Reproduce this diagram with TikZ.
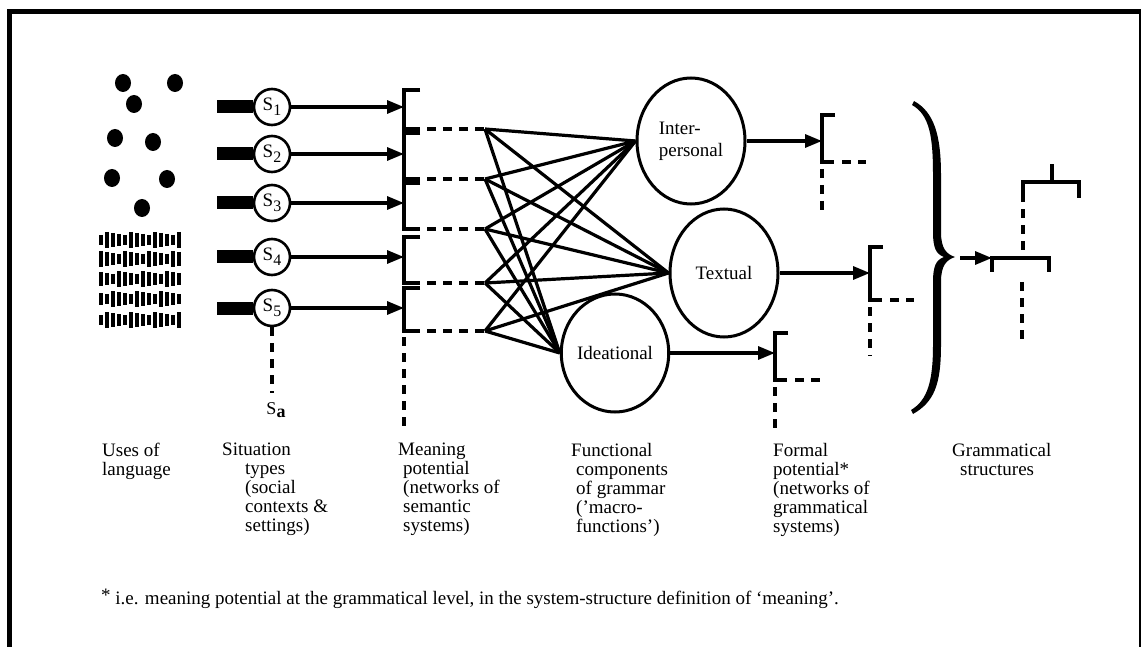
\documentclass[tikz,border=0pt]{standalone}
\usepackage{fontspec}
\setmainfont{Liberation Serif}
\usetikzlibrary{arrows.meta,shapes.geometric}
\begin{document}
\begin{tikzpicture}[x=1pt,y=-1pt,
  sit/.style={circle, draw, line width=2.6pt, minimum size=36pt, inner sep=0pt, font=\fontsize{19}{19}\selectfont},
  func/.style={ellipse, draw, line width=3pt, inner sep=0pt, align=left, font=\fontsize{19}{22}\selectfont},
  arr/.style={line width=3.2pt, -{Triangle[length=17pt,width=13pt]}},
  solidln/.style={line width=3.2pt},
  dashln/.style={line width=3.6pt, dash pattern=on 9pt off 7pt},
  fan/.style={line width=3.2pt},
  thickbar/.style={line width=13pt},
  lbl/.style={font=\fontsize{19}{19}\selectfont, align=left, anchor=north west, inner sep=0pt},
]
\useasboundingbox (0,0) rectangle (1141,647);
% frame
\draw[line width=5pt] (9.5,647) -- (9.5,11.5) -- (1141,11.5);
\draw[line width=2pt] (1140,11.5) -- (1140,647);

% uses of language: dots
\foreach \px/\py in {123/83,175/83,134/104,115/138,153/142,112/178,167/179,142/208}
  \fill (\px,\py) ellipse [x radius=8, y radius=9];
% text-like marks
\foreach \r/\yy in {0/240,1/259,2/279,3/299,4/320}{
  \foreach \k in {0,...,13}{
    \pgfmathsetmacro\hh{5+mod(\k*7+\r*3,4)}
    \draw[line width=3.4pt] (101+6*\k,\yy-\hh) -- (101+6*\k,\yy+\hh);
  }
}

% situation types
\node[sit] (s1) at (272,107) {S\raisebox{-5pt}{\fontsize{16}{16}\selectfont 1}};
\node[sit] (s2) at (272,154) {S\raisebox{-5pt}{\fontsize{16}{16}\selectfont 2}};
\node[sit] (s3) at (272,203) {S\raisebox{-5pt}{\fontsize{16}{16}\selectfont 3}};
\node[sit] (s4) at (272,257) {S\raisebox{-5pt}{\fontsize{16}{16}\selectfont 4}};
\node[sit] (s5) at (272,308) {S\raisebox{-5pt}{\fontsize{16}{16}\selectfont 5}};
\foreach \i/\yy in {1/107,2/154,3/203,4/257,5/308}{
  \coordinate (u\i) at (217,\yy);
  \coordinate (b\i) at (404,\yy);
  \draw[thickbar] (u\i) -- (s\i.west);
  \draw[arr] (s\i.east) -- (b\i);
}
\coordinate (sa) at (272,393);
\draw[dashln] (s5.south) -- (sa);
\node[font=\fontsize{18}{18}\selectfont, inner sep=0pt] (salbl) at (276,410) {S\raisebox{-3pt}{\textbf{a}}};

% meaning potential brackets
\foreach \i/\tp/\bt in {1/90/129,2/133/179,3/183/229,4/237/283,5/288/331}{
  \coordinate (m\i) at (485,\bt);
  \draw[solidln] (420,\tp) -- (404,\tp) -- (404,\bt) -- (420,\bt);
  \draw[dashln] (427,\bt) -- (m\i);
}
\coordinate (mdown) at (404,432);
\draw[dashln] (404,337) -- (mdown);

% functional components
\node[func, minimum width=108pt, minimum height=126pt] (inter) at (691,141) {Inter-\\personal};
\node[func, minimum width=108pt, minimum height=128pt] (text) at (724,273) {Textual};
\node[func, minimum width=104pt, minimum height=118pt] (idea) at (615,353) {Ideational};

% fan
\foreach \m in {m1,m2,m3,m4,m5}{
  \foreach \t in {inter.west,text.west,idea.west}{
    \draw[fan] (\m) -- (\t);
  }
}

% formal potential
\coordinate (f1) at (822,141);
\coordinate (f2) at (870,273);
\coordinate (f3) at (775,353);
\draw[arr] (inter.east) -- (f1);
\draw[arr] (text.east) -- (f2);
\draw[arr] (idea.east) -- (f3);
\draw[solidln] (835,115) -- (822,115) -- (822,162) -- (834,162);
\draw[dashln] (842,162) -- (866,162);
\draw[dashln] (822,169) -- (822,213);
\draw[solidln] (883,247) -- (870,247) -- (870,300) -- (882,300);
\draw[dashln] (890,300) -- (914,300);
\draw[dashln] (870,307) -- (870,356);
\draw[solidln] (788,333) -- (775,333) -- (775,380) -- (787,380);
\draw[dashln] (795,380) -- (826,380);
\draw[dashln] (775,387) -- (775,432);

% brace
\fill (914,101) .. controls (934,112) and (941,135) .. (941,175) -- (941,232)
  .. controls (941,248) and (946,254) .. (955,257)
  .. controls (946,260) and (941,266) .. (941,282) -- (941,345)
  .. controls (941,385) and (934,402) .. (913,414)
  -- (911,410) .. controls (928,400) and (933,380) .. (933,345) -- (933,282)
  .. controls (933,266) and (936,260) .. (944,257)
  .. controls (936,254) and (933,248) .. (933,232) -- (933,175)
  .. controls (933,138) and (930,115) .. (912,105) -- cycle;

% grammatical structure
\coordinate (g0) at (960,258);
\coordinate (g1) at (992,258);
\draw[arr] (g0) -- (g1);
\draw[solidln] (992,272) -- (992,258) -- (1049,258) -- (1049,272);
\draw[dashln] (1023,250) -- (1023,192);
\draw[solidln] (1023,195) -- (1023,182) -- (1079,182) -- (1079,198);
\draw[solidln] (1052,182) -- (1052,164);
\draw[dashln] (1022,282) -- (1022,340);

% labels
\node[lbl] (l1) at (102,443) {Uses of\\language};
\node[lbl] (l2) at (222,443) {Situation\\\hspace*{23pt}types\\\hspace*{23pt}(social\\\hspace*{23pt}contexts \&\\\hspace*{23pt}settings)};
\node[lbl] (l3) at (398,443) {Meaning\\\hspace*{5pt}potential\\\hspace*{5pt}(networks of\\\hspace*{5pt}semantic\\\hspace*{5pt}systems)};
\node[lbl] (l4) at (571,443) {Functional\\\hspace*{5pt}components\\\hspace*{5pt}of grammar\\\hspace*{5pt}(’macro-\\\hspace*{5pt}functions’)};
\node[lbl] (l5) at (773,443) {Formal\\potential*\\(networks of\\grammatical\\systems)};
\node[lbl] (l6) at (952,443) {Grammatical\\\hspace*{8pt}structures};
\node[font=\fontsize{19}{19}\selectfont, anchor=base west, inner sep=0pt] (foot) at (101,604) {\raisebox{3pt}{*} i.e. meaning potential at the grammatical level, in the system-structure definition of ‘meaning’.};
\end{tikzpicture}
\end{document}
